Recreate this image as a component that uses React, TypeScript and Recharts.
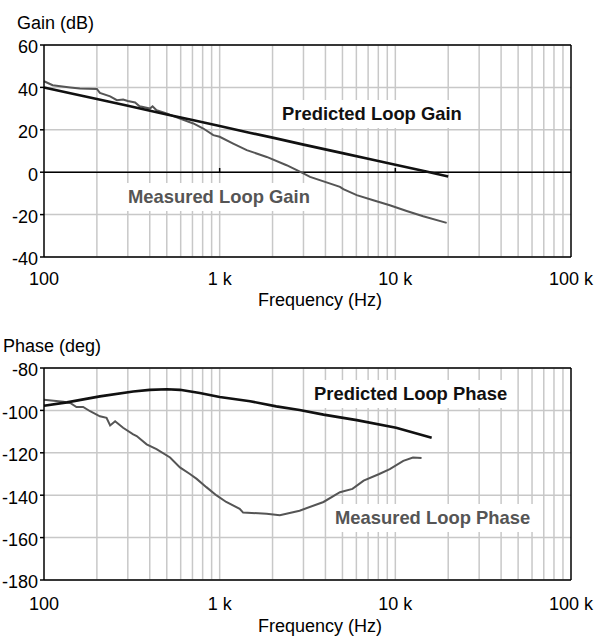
import { LineChart, Line, XAxis, YAxis, CartesianGrid, ReferenceLine } from "recharts";

// frequency axis (Hz), log scale
const freqTicks = [100, 1000, 10000, 100000];
const freqTickLabels = ["100", "1 k", "10 k", "100 k"];
const gridFreqs = [
  200, 300, 400, 500, 600, 700, 800, 900, 1000,
  2000, 3000, 4000, 5000, 6000, 7000, 8000, 9000, 10000,
  20000, 30000, 40000, 50000, 60000, 70000, 80000, 90000,
];

const gainTicks = [-40, -20, 0, 20, 40, 60];
const phaseTicks = [-180, -160, -140, -120, -100, -80];

// gain curves (dB)
const predGainFreq = [100, 150, 200, 300, 500, 700, 1000, 1500, 2000, 3000, 5000, 7000, 10000, 15000, 20000];
const predGainDb = [40, 36.8, 34.5, 31.3, 27.2, 24.6, 21.8, 18.5, 16.3, 13.0, 9.0, 6.3, 3.5, 0.3, -2.0];

const measGainFreq = [
  100, 112, 141, 160, 200, 208, 238, 260, 282, 300, 330, 350, 401, 415, 437, 499, 594, 708, 807, 920,
  1000, 1194, 1426, 1853, 2404, 2900, 3270, 4840, 5060, 6030, 7490, 9300, 11600, 14400, 19600,
];
const measGainDb = [
  42.9, 41, 40, 39.5, 39.3, 37.4, 35.8, 34, 34.3, 33.6, 32.9, 31.1, 30, 31.1, 29.2, 27.7, 25.3, 23, 20.6, 17.5,
  16.7, 13.5, 10.4, 7.2, 3.3, 0, -2.2, -6.9, -8, -10.8, -13.2, -15.6, -18.3, -20.8, -23.9,
];

// phase curves (deg)
const predPhaseFreq = [100, 135, 208, 322, 400, 500, 594, 770, 1000, 1490, 2100, 2850, 3900, 6030, 10100, 16100];
const predPhaseDeg = [-97.8, -96.2, -93.4, -91.1, -90.3, -90, -90.3, -91.8, -93.7, -95.7, -98.1, -99.8, -102, -104.6, -108.2, -112.9];

const measPhaseFreq = [
  100, 110, 129, 141, 153, 167, 183, 208, 227, 238, 254, 282, 322, 337, 384, 437, 522, 594, 677, 740, 840, 960,
  1090, 1300, 1360, 1850, 2200, 2850, 3900, 4840, 5700, 6600, 8100, 9300, 11100, 12600, 14100,
];
const measPhaseDeg = [
  -95, -95.3, -95.9, -96.5, -98.4, -98.4, -100.4, -102.8, -103.5, -107.1, -105.1, -108.2, -111.3, -112.1, -116,
  -118.3, -122.2, -126.9, -130, -132.3, -136.2, -140.1, -143.2, -146.4, -148.2, -148.7, -149.5, -147.3, -143.2,
  -138.6, -137, -133.1, -130, -127.7, -123.8, -122.2, -122.5,
];

const toPoints = (f: number[], v: number[]) => f.map((x, i) => ({ f: x, v: v[i] }));

const FONT = "'Liberation Sans', Arial, sans-serif";
const PRED = "#111111";
const MEAS = "#555555";
const GRID = "#c8c8c8";

type PanelProps = {
  top: number;
  domain: [number, number];
  yTicks: number[];
  pred: { f: number; v: number }[];
  meas: { f: number; v: number }[];
  tickGap: number;
  zeroLine?: boolean;
};

const Panel = ({ top, domain, yTicks, pred, meas, tickGap, zeroLine }: PanelProps) => (
  <div style={{ position: "absolute", left: 0, top }}>
    <LineChart width={604} height={300} margin={{ top: 45, right: 33, left: 0, bottom: 0 }}>
      <XAxis
        type="number"
        dataKey="f"
        scale="log"
        domain={[100, 100000]}
        ticks={freqTicks}
        interval={0}
        tickFormatter={(v: number) => freqTickLabels[freqTicks.indexOf(v)] ?? ""}
        height={43}
        tickLine={false}
        tickSize={0}
        tickMargin={tickGap}
        axisLine={{ stroke: "#000", strokeWidth: 1.5 }}
        tick={{ fill: "#000", fontSize: 18 }}
      />
      <YAxis
        type="number"
        domain={domain}
        ticks={yTicks}
        interval={0}
        width={44}
        tickSize={4}
        tickLine={{ stroke: "#000", strokeWidth: 1.5 }}
        axisLine={{ stroke: "#000", strokeWidth: 1.5 }}
        tick={{ fill: "#000", fontSize: 18, dy: 2 }}
      />
      <CartesianGrid vertical={false} stroke={GRID} strokeWidth={1.5} />
      {gridFreqs.map((g) => (
        <ReferenceLine key={g} x={g} stroke={GRID} strokeWidth={1.5} />
      ))}
      <ReferenceLine y={domain[1]} stroke="#000" strokeWidth={1.5} />
      <ReferenceLine x={100000} stroke="#000" strokeWidth={1.5} />
      {zeroLine && <ReferenceLine y={0} stroke="#000" strokeWidth={1.5} />}
      {zeroLine && (
        <ReferenceLine segment={[{ x: 1000, y: 0 }, { x: 1000, y: 2 }]} stroke="#000" strokeWidth={1.5} />
      )}
      {zeroLine && (
        <ReferenceLine segment={[{ x: 10000, y: 0 }, { x: 10000, y: 2 }]} stroke="#000" strokeWidth={1.5} />
      )}
      <Line data={meas} dataKey="v" type="linear" stroke={MEAS} strokeWidth={2} dot={false} isAnimationActive={false} />
      <Line data={pred} dataKey="v" type="linear" stroke={PRED} strokeWidth={2.6} dot={false} isAnimationActive={false} />
    </LineChart>
  </div>
);

// plain text placed by its baseline
const Txt = ({ x, baseline, text, size = 18, bold = false, color = "#000", bg = false }: any) => {
  const padY = bg ? 5 : 0;
  const padX = bg ? 6 : 0;
  return (
    <div
      style={{
        position: "absolute",
        left: x - padX,
        top: baseline - size * 0.8465 - padY,
        fontSize: size,
        lineHeight: `${size}px`,
        fontWeight: bold ? 700 : 400,
        color,
        whiteSpace: "nowrap",
        background: bg ? "#fff" : "transparent",
        padding: `${padY}px ${padX}px ${Math.max(padY - 1, 0)}px`,
      }}
    >
      {text}
    </div>
  );
};

export default function App() {
  return (
    <div style={{ position: "relative", width: 604, height: 637, fontFamily: FONT, background: "#fff" }}>
      <style>{`body{margin:0}`}</style>
      <Panel
        top={0}
        domain={[-40, 60]}
        yTicks={gainTicks}
        pred={toPoints(predGainFreq, predGainDb)}
        meas={toPoints(measGainFreq, measGainDb)}
        tickGap={15}
        zeroLine
      />
      <Panel
        top={323}
        domain={[-180, -80]}
        yTicks={phaseTicks}
        pred={toPoints(predPhaseFreq, predPhaseDeg)}
        meas={toPoints(measPhaseFreq, measPhaseDeg)}
        tickGap={17}
      />
      <Txt x={17} baseline={29} text="Gain (dB)" />
      <Txt x={258} baseline={306} text="Frequency (Hz)" />
      <Txt x={3} baseline={352} text="Phase (deg)" />
      <Txt x={258} baseline={632} text="Frequency (Hz)" />
      <Txt x={282} baseline={121} text="Predicted Loop Gain" size={18.4} bold color={PRED} bg />
      <Txt x={128} baseline={204} text="Measured Loop Gain" size={18.4} bold color={MEAS} bg />
      <Txt x={314} baseline={401} text="Predicted Loop Phase" size={18.4} bold color={PRED} bg />
      <Txt x={335} baseline={525} text="Measured Loop Phase" size={18.4} bold color={MEAS} bg />
    </div>
  );
}
